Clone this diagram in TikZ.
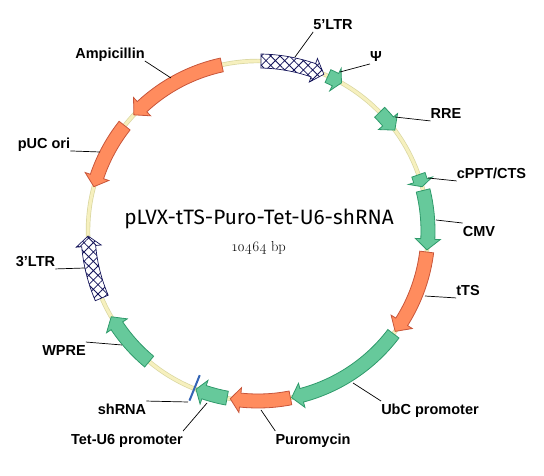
\documentclass[tikz,border=0pt]{standalone}
\usepackage{fontspec}
\setmainfont{Liberation Sans}
\newfontfamily\titlefont{Fira Sans}
\newfontfamily\bpfont[Numbers=OldStyle]{Latin Modern Roman}
\usepackage{tikz}
\usetikzlibrary{patterns.meta}
\definecolor{genegreen}{HTML}{66C99B}
\definecolor{geneedge}{HTML}{2F9A6B}
\definecolor{geneorange}{HTML}{FF8C5E}
\definecolor{orangeedge}{HTML}{C8553A}
\definecolor{ringyellow}{HTML}{F6F0BE}
\definecolor{ringedge}{HTML}{D9D6A0}
\definecolor{hatchnavy}{HTML}{14145A}
\definecolor{sitenblue}{HTML}{3565B5}
% tail angle, head base angle, tip angle on the ring
\newcommand{\genearrow}[4]{%
  \path[#1] (#2:177) arc[start angle=#2,end angle=#3,radius=177] -- (#3:182.5)
    -- (#4:170) -- (#3:157.5) -- (#3:163) arc[start angle=#3,end angle=#2,radius=163] -- cycle;}

\begin{document}
\begin{tikzpicture}[x=1pt,y=1pt,font=\bfseries\fontsize{14.5}{16}\selectfont]
  \tikzset{
    green/.style={draw=geneedge,fill=genegreen,line width=0.8pt},
    orange/.style={draw=orangeedge,fill=geneorange,line width=0.8pt},
    hatched/.style={draw=hatchnavy,fill=white,line width=0.7pt,
      postaction={pattern={Hatch[angle=45,distance=6.6pt,line width=0.8pt]},pattern color=hatchnavy}},
    lbl/.style={inner xsep=0pt,inner ysep=2.5pt,text height=10.5pt,text depth=0pt},
    leader/.style={draw=black,line width=0.7pt}
  }
  \useasboundingbox (0,0) rectangle (544,476);
  \begin{scope}[shift={(258,245)}]
    \draw[ringedge,line width=4.4pt] (0,0) circle[radius=170];
    \draw[ringyellow,line width=3pt] (0,0) circle[radius=170];
    \genearrow{hatched}{89}{71}{67.2}
    \genearrow{green}{65.7}{62.9}{60.6}
    \genearrow{green}{44.3}{40.1}{36.4}
    \genearrow{green}{19.3}{17.2}{15.1}
    \genearrow{green}{13.8}{-2.7}{-6.4}
    \genearrow{orange}{-7.1}{-32.3}{-36.2}
    \genearrow{green}{-37.2}{-75.1}{-78.6}
    \genearrow{orange}{-79}{-96}{-99.4}
    \genearrow{green}{-100.5}{-108.5}{-111.4}
    \genearrow{green}{-129.8}{-146.1}{-149.7}
    \genearrow{hatched}{-156.8}{-174.9}{-178.3}
    \genearrow{orange}{141.7}{161.3}{164.9}
    \genearrow{orange}{102.3}{133}{136.9}
    \draw[sitenblue,line width=2pt] (-112:155.5) -- (-112:183);
  \end{scope}

  \node[font=\titlefont\fontsize{20.8}{24}\selectfont] (plasmid) at (259,257) {pLVX-tTS-Puro-Tet-U6-shRNA};
  \node[font=\bpfont\fontsize{14.5}{16}\selectfont] (size) at (259,228) {10464 bp};

  \node[lbl] (ltrfive) at (333,452) {5'LTR};
  \node[lbl] (psi) at (376,420) {Ψ};
  \node[lbl] (rre) at (446,363) {RRE};
  \node[lbl] (cppt) at (491.5,303) {cPPT/CTS};
  \node[lbl] (cmv) at (479,245) {CMV};
  \node[lbl] (tts) at (468,186) {tTS};
  \node[lbl] (ubc) at (430,67) {UbC promoter};
  \node[lbl] (puro) at (313,37) {Puromycin};
  \node[lbl] (tetu) at (127,37) {Tet-U6 promoter};
  \node[lbl] (shrna) at (122,67) {shRNA};
  \node[lbl] (wpre) at (64,126) {WPRE};
  \node[lbl] (ltrthree) at (35.5,215) {3'LTR};
  \node[lbl] (puc) at (44,333) {pUC ori};
  \node[lbl] (amp) at (110,423) {Ampicillin};

  \coordinate (ltrfive-end) at (295,419);
  \coordinate (psi-end) at (340,404);
  \coordinate (rre-end) at (395,359);
  \coordinate (cppt-end) at (428,298);
  \coordinate (cmv-end) at (436,256);
  \coordinate (tts-end) at (425,180);
  \coordinate (ubc-end) at (353,93);
  \coordinate (puro-end) at (261,66);
  \coordinate (tetu-end) at (207,73);
  \coordinate (shrna-end) at (188,74);
  \coordinate (wpre-end) at (122,131);
  \coordinate (ltrthree-end) at (85,208);
  \coordinate (puc-end) at (100,324);
  \coordinate (amp-end) at (171,398);

  \draw[leader] (ltrfive.south west) -- (ltrfive-end);
  \draw[leader] (psi.south west) -- (psi-end);
  \draw[leader] (rre.south west) -- (rre-end);
  \draw[leader] (cppt.south west) -- (cppt-end);
  \draw[leader] (cmv.north west) -- (cmv-end);
  \draw[leader] (tts.south west) -- (tts-end);
  \draw[leader] (ubc.north west) -- (ubc-end);
  \draw[leader] (puro.north west) -- (puro-end);
  \draw[leader] (tetu.north east) -- (tetu-end);
  \draw[leader] (shrna.north east) -- (shrna-end);
  \draw[leader] (wpre.north east) -- (wpre-end);
  \draw[leader] (ltrthree.south east) -- (ltrthree-end);
  \draw[leader] (puc.south east) -- (puc-end);
  \draw[leader] (amp.south east) -- (amp-end);
\end{tikzpicture}
\end{document}
